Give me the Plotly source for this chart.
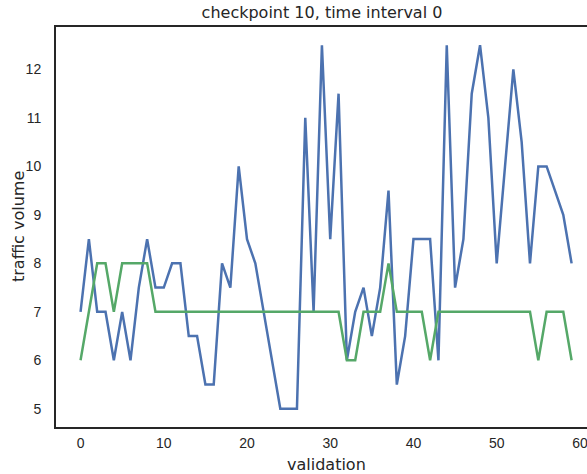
import plotly.graph_objects as go

x_index = list(range(60))
actual = [7, 8.5, 7, 7, 6, 7, 6, 7.5, 8.5, 7.5,
          7.5, 8, 8, 6.5, 6.5, 5.5, 5.5, 8, 7.5, 10,
          8.5, 8, 7, 6, 5, 5, 5, 11, 7, 12.5,
          8.5, 11.5, 6, 7, 7.5, 6.5, 7.5, 9.5, 5.5, 6.5,
          8.5, 8.5, 8.5, 6, 12.5, 7.5, 8.5, 11.5, 12.5, 11,
          8, 10, 12, 10.5, 8, 10, 10, 9.5, 9, 8]
predicted = [6, 7, 8, 8, 7, 8, 8, 8, 8, 7,
             7, 7, 7, 7, 7, 7, 7, 7, 7, 7,
             7, 7, 7, 7, 7, 7, 7, 7, 7, 7,
             7, 7, 6, 6, 7, 7, 7, 8, 7, 7,
             7, 7, 6, 7, 7, 7, 7, 7, 7, 7,
             7, 7, 7, 7, 7, 6, 7, 7, 7, 6]
x_ticks = [0, 10, 20, 30, 40, 50, 60]
y_ticks = [5, 6, 7, 8, 9, 10, 11, 12]

TICKFONT = "Liberation Sans, Arial, sans-serif"
LABELFONT = "DejaVu Sans, sans-serif"
TXT = "#262626"

W, H = 587, 474
L, R, T, B = 56, 0, 27, 47

fig = go.Figure()
fig.add_trace(go.Scatter(x=x_index, y=actual, mode="lines",
                         line=dict(color="#4C72B0", width=2.5), showlegend=False))
fig.add_trace(go.Scatter(x=x_index, y=predicted, mode="lines",
                         line=dict(color="#55A868", width=2.5), showlegend=False))

fig.update_layout(
    width=W, height=H,
    margin=dict(l=L, r=R, t=T, b=B, autoexpand=False),
    plot_bgcolor="white", paper_bgcolor="white",
    font=dict(family=TICKFONT, color=TXT, size=14),
    title=dict(text="checkpoint 10, time interval 0", x=322/W, xref="container",
               xanchor="center", y=1-12/H, yref="container", yanchor="middle",
               font=dict(size=16, color=TXT, family=LABELFONT)),
    xaxis=dict(range=[-2.95, 60.85], tickvals=x_ticks, showgrid=False, zeroline=False,
               showline=True, linecolor=TXT, linewidth=2, mirror=True, automargin=False,
               ticks="outside", ticklen=2, tickcolor="rgba(0,0,0,0)",
               ticklabeloverflow="allow",
               tickfont=dict(size=14, color=TXT)),
    yaxis=dict(range=[4.625, 12.875], tickvals=y_ticks, showgrid=False, zeroline=False,
               showline=True, linecolor=TXT, linewidth=2, automargin=False,
               ticks="outside", ticklen=10, tickcolor="rgba(0,0,0,0)",
               tickfont=dict(size=14, color=TXT)),
    annotations=[
        dict(text="validation", xref="paper", yref="paper", x=(326 - L) / (W - L - R),
             y=0, yshift=-(464 - (H - B)), xanchor="center", yanchor="middle",
             showarrow=False, font=dict(size=16, color=TXT, family=LABELFONT)),
        dict(text="traffic volume", xref="paper", yref="paper", x=0, xshift=-(L - 18),
             y=0.5, xanchor="center", yanchor="middle", textangle=-90,
             showarrow=False, font=dict(size=16, color=TXT, family=LABELFONT)),
    ],
)

fig.write_html("out.html", config={"displayModeBar": False},
               post_script="document.body.style.margin='0';document.body.style.overflow='hidden';")
